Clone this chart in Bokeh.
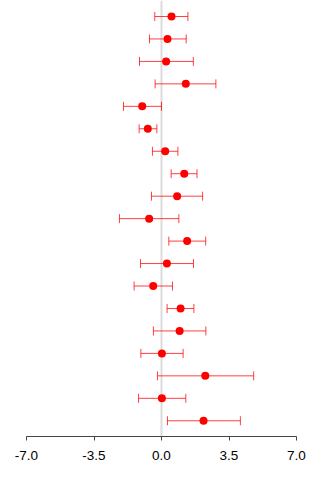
from bokeh.plotting import figure
from bokeh.models import ColumnDataSource, Range1d, Span, Whisker, TeeHead, FixedTicker
from bokeh.embed import file_html
from bokeh.resources import INLINE

# Point estimates with lower / upper interval bounds, listed top row first
estimate = [0.52, 0.31, 0.24, 1.26, -1.00, -0.71, 0.19, 1.18, 0.81, -0.64,
            1.33, 0.28, -0.43, 0.99, 0.94, 0.02, 2.27, 0.02, 2.18]
lower = [-0.35, -0.62, -1.14, -0.33, -1.97, -1.16, -0.47, 0.50, -0.52, -2.18,
         0.38, -1.09, -1.42, 0.29, -0.42, -1.07, -0.21, -1.19, 0.31]
upper = [1.37, 1.28, 1.65, 2.82, 0.00, -0.24, 0.85, 1.84, 2.13, 0.90,
         2.29, 1.66, 0.57, 1.68, 2.30, 1.12, 4.78, 1.26, 4.09]
x_ticks = [-7.0, -3.5, 0.0, 3.5, 7.0]
x_tick_labels = ["-7.0", "-3.5", "0.0", "3.5", "7.0"]

rows = list(range(len(estimate)))
src = ColumnDataSource(dict(row=rows, est=estimate, lo=lower, hi=upper))

p = figure(width=320, height=480, output_backend="svg", toolbar_location=None,
           x_range=Range1d(-7, 7), y_range=Range1d(18.70, -0.712),
           min_border_left=26, min_border_right=24, min_border_top=0,
           min_border_bottom=44, background_fill_color="white",
           border_fill_color="white")
p.outline_line_color = None
p.grid.visible = False
p.yaxis.visible = False

# reference line at zero, kept beneath the marks
p.add_layout(Span(location=0, dimension="height", line_color="#dcdcdc",
                  line_width=2, level="underlay"))

red = "#ff0000"
whisk = Whisker(source=src, base="row", lower="lo", upper="hi", dimension="width",
                line_color=red, line_alpha=0.75, line_width=1, level="underlay",
                lower_head=TeeHead(size=9, line_color=red, line_alpha=0.75, line_width=1),
                upper_head=TeeHead(size=9, line_color=red, line_alpha=0.75, line_width=1))
p.add_layout(whisk)

p.scatter(x="est", y="row", source=src, size=8, fill_color=red, line_color=None)

ax = p.xaxis[0]
ax.ticker = FixedTicker(ticks=x_ticks)
ax.major_label_overrides = {t: l for t, l in zip(x_ticks, x_tick_labels)}
ax.axis_line_color = "#444444"
ax.major_tick_line_color = "#444444"
ax.major_tick_in = 0
ax.major_tick_out = 4
ax.minor_tick_line_color = None
ax.major_label_standoff = 10
ax.major_label_text_font = "Liberation Sans"
ax.major_label_text_font_size = "13.5px"
ax.major_label_text_color = "black"

open("out.html", "w").write(file_html(p, INLINE))
